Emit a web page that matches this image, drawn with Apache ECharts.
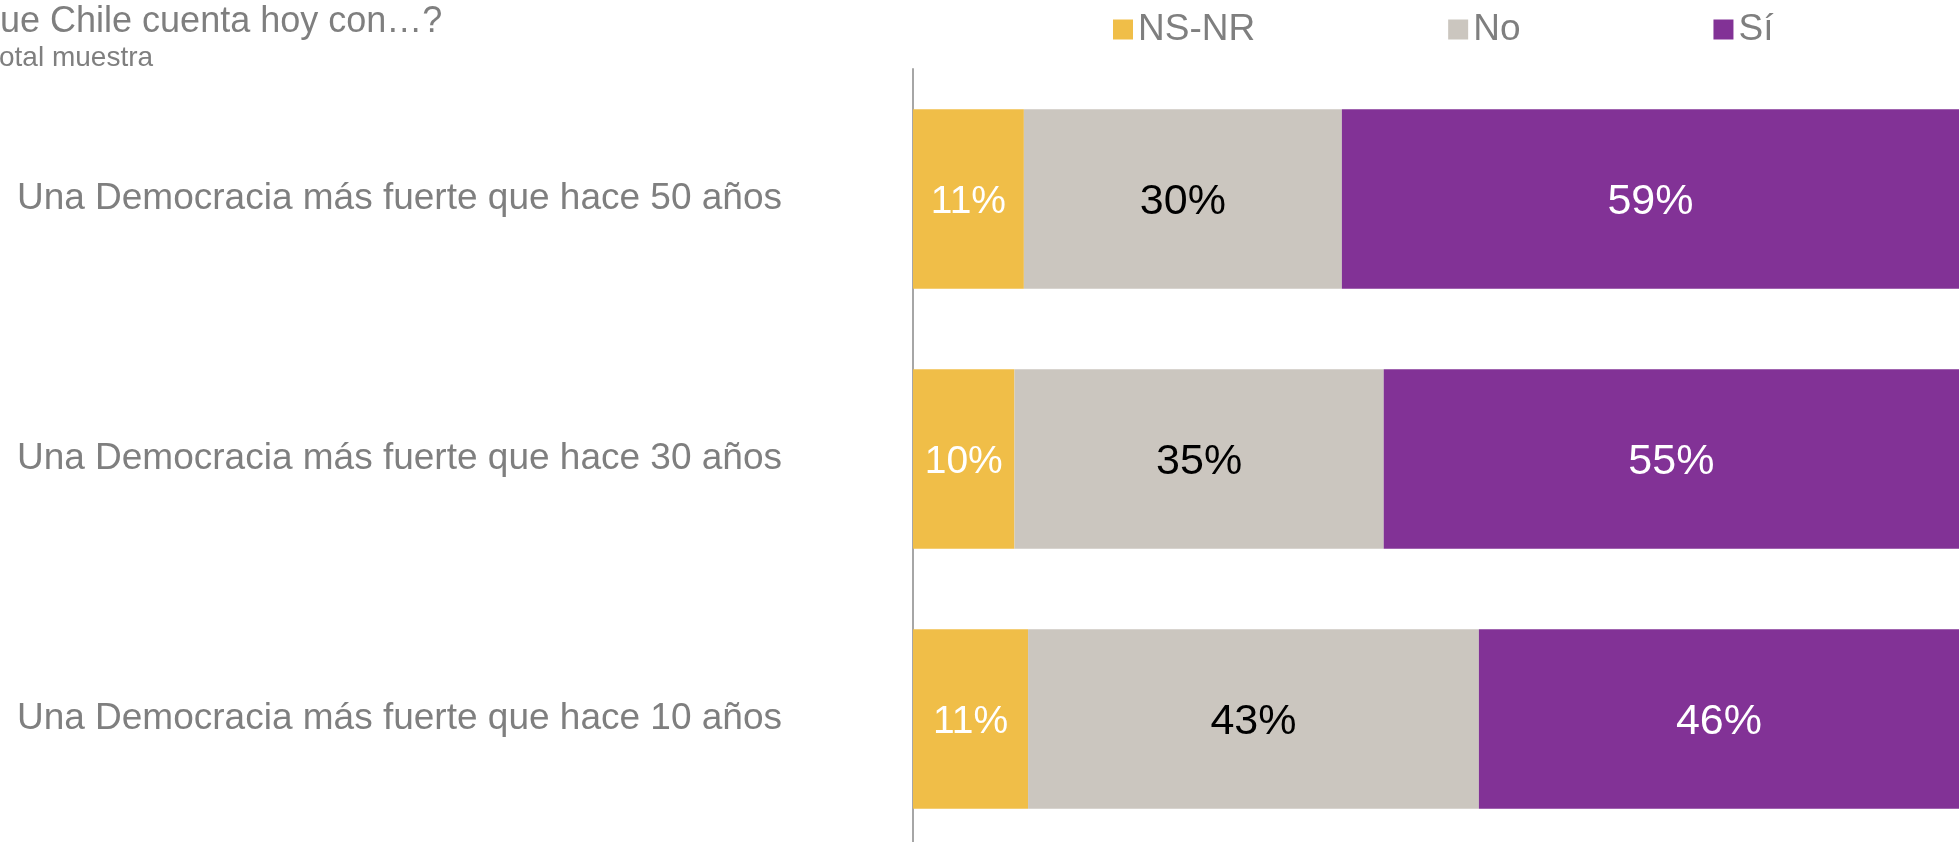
<!DOCTYPE html>
<html>
<head>
<meta charset="utf-8">
<script src="https://cdn.jsdelivr.net/npm/echarts@6/dist/echarts.min.js"></script>
<style>
html,body{margin:0;padding:0;background:#fff;overflow:hidden;}
#chart{width:1959px;height:860px;}
</style>
</head>
<body>
<div id="chart"></div>
<script>
const categories = [
  'Una Democracia más fuerte que hace 50 años',
  'Una Democracia más fuerte que hace 30 años',
  'Una Democracia más fuerte que hace 10 años'
];
const seriesNames = ['NS-NR', 'No', 'Sí'];
const nsnrValues = [10.6, 9.7, 11.0];
const noValues = [30.4, 35.3, 43.1];
const siValues = [59.0, 55.0, 45.9];
const titleText = 'ue Chile cuenta hoy con…?';
const subtitleText = 'otal muestra';

const colors = ['#F0BE48', '#CBC6BF', '#823296'];
const font = 'Arial, "Liberation Sans", sans-serif';
const fmt = p => Math.round(p.value) + '%';

const chart = echarts.init(document.getElementById('chart'), null, {renderer: 'canvas'});
chart.setOption({
  animation: false,
  backgroundColor: '#ffffff',
  graphic: [
    {type: 'text', left: 0, top: 4, style: {text: titleText, font: '36px ' + font, fill: '#7f7f7f'}},
    {type: 'text', left: -1, top: 44, style: {text: subtitleText, font: '28px ' + font, fill: '#7f7f7f'}}
  ],
  legend: {
    left: 1108, top: 6,
    itemWidth: 20, itemHeight: 20, itemGap: 193,
    icon: 'rect',
    data: seriesNames,
    textStyle: {fontSize: 37, color: '#7f7f7f', fontFamily: font}
  },
  grid: {left: 913, top: 69, width: 1067, height: 780, containLabel: false},
  xAxis: {
    type: 'value', min: 0, max: 100, show: false
  },
  yAxis: {
    type: 'category', inverse: true, data: categories,
    axisLine: {show: true, lineStyle: {color: '#a6a6a6', width: 2}},
    axisTick: {show: false},
    axisLabel: {margin: 131, fontSize: 37, color: '#7f7f7f', fontFamily: font, padding: [5, 0, 0, 0]}
  },
  series: [
    {name: seriesNames[0], type: 'bar', stack: 't', data: nsnrValues, barCategoryGap: '31%',
     itemStyle: {color: colors[0]},
     label: {show: true, position: 'inside', offset: [0, 3], formatter: fmt, fontSize: 39, color: '#ffffff', fontFamily: font}},
    {name: seriesNames[1], type: 'bar', stack: 't', data: noValues, barCategoryGap: '31%',
     itemStyle: {color: colors[1]},
     label: {show: true, position: 'inside', offset: [0, 3], formatter: fmt, fontSize: 43, color: '#000000', fontFamily: font}},
    {name: seriesNames[2], type: 'bar', stack: 't', data: siValues, barCategoryGap: '31%',
     itemStyle: {color: colors[2]},
     label: {show: true, position: 'inside', offset: [0, 3], formatter: fmt, fontSize: 43, color: '#ffffff', fontFamily: font}}
  ]
});
</script>
</body>
</html>
